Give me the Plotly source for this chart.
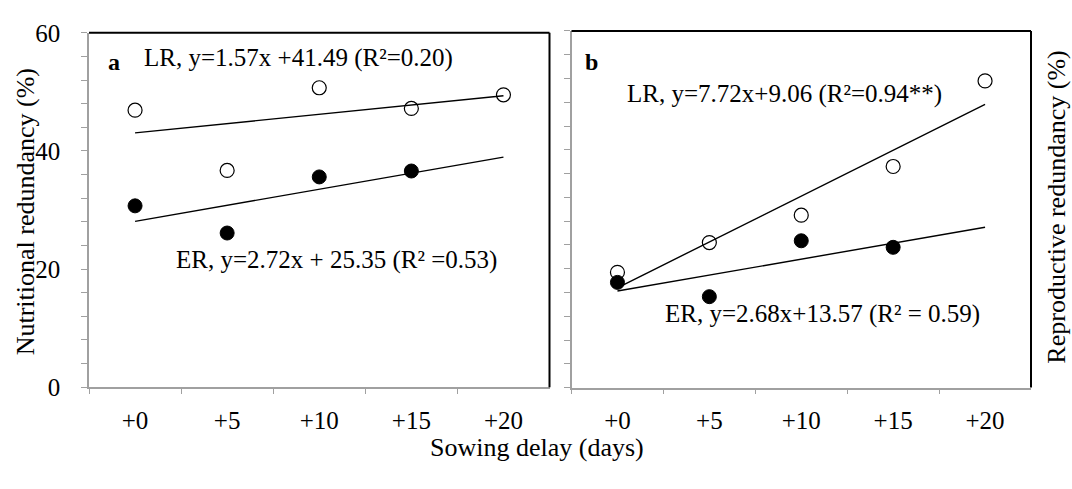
import plotly.graph_objects as go

# ---- data ----
categories = ["+0", "+5", "+10", "+15", "+20"]

# panel a: nutritional redundancy (%)
nut_lr = [46.9, 36.7, 50.7, 47.2, 49.5]
nut_er = [30.7, 26.1, 35.6, 36.6]
nut_lr_fit = [43.06, 49.34]   # at +0 and +20
nut_er_fit = [28.07, 38.95]

# panel b: reproductive redundancy (%)
rep_lr = [19.4, 24.4, 29.0, 37.2, 51.6]
rep_er = [17.7, 15.3, 24.7, 23.6]
rep_lr_fit = [16.78, 47.66]
rep_er_fit = [16.25, 26.97]

fit_x = [categories[0], categories[-1]]

y_ticks = [0, 20, 40, 60]

FONT = "Liberation Serif"
GRAY = "#a0a0a0"

fig = go.Figure()

def add_panel(xa, ya, lr, er, lr_fit, er_fit):
    fig.add_trace(go.Scatter(
        x=categories[:len(lr)], y=lr, mode="markers", xaxis=xa, yaxis=ya,
        marker=dict(symbol="circle", size=14, color="white",
                    line=dict(color="black", width=1.2)),
        showlegend=False, hoverinfo="skip"))
    fig.add_trace(go.Scatter(
        x=categories[:len(er)], y=er, mode="markers", xaxis=xa, yaxis=ya,
        marker=dict(symbol="circle", size=14, color="black",
                    line=dict(color="black", width=1)),
        showlegend=False, hoverinfo="skip"))
    fig.add_trace(go.Scatter(
        x=fit_x, y=lr_fit, mode="lines", xaxis=xa, yaxis=ya,
        line=dict(color="black", width=1.4), showlegend=False, hoverinfo="skip"))
    fig.add_trace(go.Scatter(
        x=fit_x, y=er_fit, mode="lines", xaxis=xa, yaxis=ya,
        line=dict(color="black", width=1.4), showlegend=False, hoverinfo="skip"))

add_panel("x", "y", nut_lr, nut_er, nut_lr_fit, nut_er_fit)
add_panel("x2", "y2", rep_lr, rep_er, rep_lr_fit, rep_er_fit)

W, H = 1072, 489

def xaxis_cfg(d0, d1, anchor):
    return dict(
        domain=[d0 / W, d1 / W], anchor=anchor, type="category",
        categoryorder="array", categoryarray=categories,
        range=[-0.5, 4.5], tickson="boundaries",
        showline=True, linecolor=GRAY, linewidth=1.5,
        ticks="outside", ticklen=5, tickcolor=GRAY, tickwidth=1.2,
        showgrid=False, zeroline=False,
        tickfont=dict(family=FONT, size=25, color="black"),
        ticklabelstandoff=10,
    )

def yaxis_cfg(top, bottom, anchor, labels):
    return dict(
        domain=[(H - bottom) / H, (H - top) / H], anchor=anchor,
        range=[0, 60], tickmode="array", tickvals=y_ticks,
        showticklabels=labels,
        showline=True, linecolor=GRAY, linewidth=1.5,
        ticks="outside", ticklen=6, tickcolor=GRAY, tickwidth=1.2,
        minor=dict(tick0=0, dtick=4, ticks="outside", ticklen=6,
                   tickcolor=GRAY, tickwidth=1.2, showgrid=False),
        showgrid=False, zeroline=False,
        tickfont=dict(family=FONT, size=25, color="black"),
        ticklabelstandoff=16,
    )

fig.update_layout(
    width=W, height=H,
    margin=dict(l=0, r=0, t=0, b=0),
    paper_bgcolor="white", plot_bgcolor="white",
    font=dict(family=FONT, color="black"),
    xaxis=xaxis_cfg(89, 549.5, "y"),
    yaxis=yaxis_cfg(21, 396, "x", True),
    xaxis2=xaxis_cfg(571.5, 1031, "y2"),
    yaxis2=yaxis_cfg(19, 396.5, "x2", False),
)

# black top and right frame lines
for xr, yr in (("x", "y"), ("x2", "y2")):
    fig.add_shape(type="line", xref=f"{xr} domain", yref=f"{yr} domain",
                  x0=0, x1=1, y0=1, y1=1, line=dict(color="black", width=2))
    fig.add_shape(type="line", xref=f"{xr} domain", yref=f"{yr} domain",
                  x0=1, x1=1, y0=0, y1=1, line=dict(color="black", width=2))

def ann(x, y, text, size=25, bold=False, angle=0):
    fig.add_annotation(
        x=x / W, y=(H - y) / H, xref="paper", yref="paper",
        text=f"<b>{text}</b>" if bold else text, showarrow=False,
        textangle=angle, xanchor="center", yanchor="middle",
        font=dict(family=FONT, size=size, color="black"))

ann(114, 52, "a", size=24, bold=True)
ann(591, 52, "b", size=24, bold=True)
ann(298, 48, "LR, y=1.57x +41.49 (R²=0.20)")
ann(336, 261, "ER, y=2.72x + 25.35 (R² =0.53)")
ann(784, 86, "LR, y=7.72x+9.06 (R²=0.94**)")
ann(822, 319, "ER, y=2.68x+13.57 (R² = 0.59)")

ann(537, 460, "Sowing delay (days)", size=26)
ann(25, 211, "Nutritional redundancy (%)", size=26, angle=-90)
ann(1057, 206, "Reproductive redundancy (%)", size=26, angle=-90)

fig.write_html("out.html")
